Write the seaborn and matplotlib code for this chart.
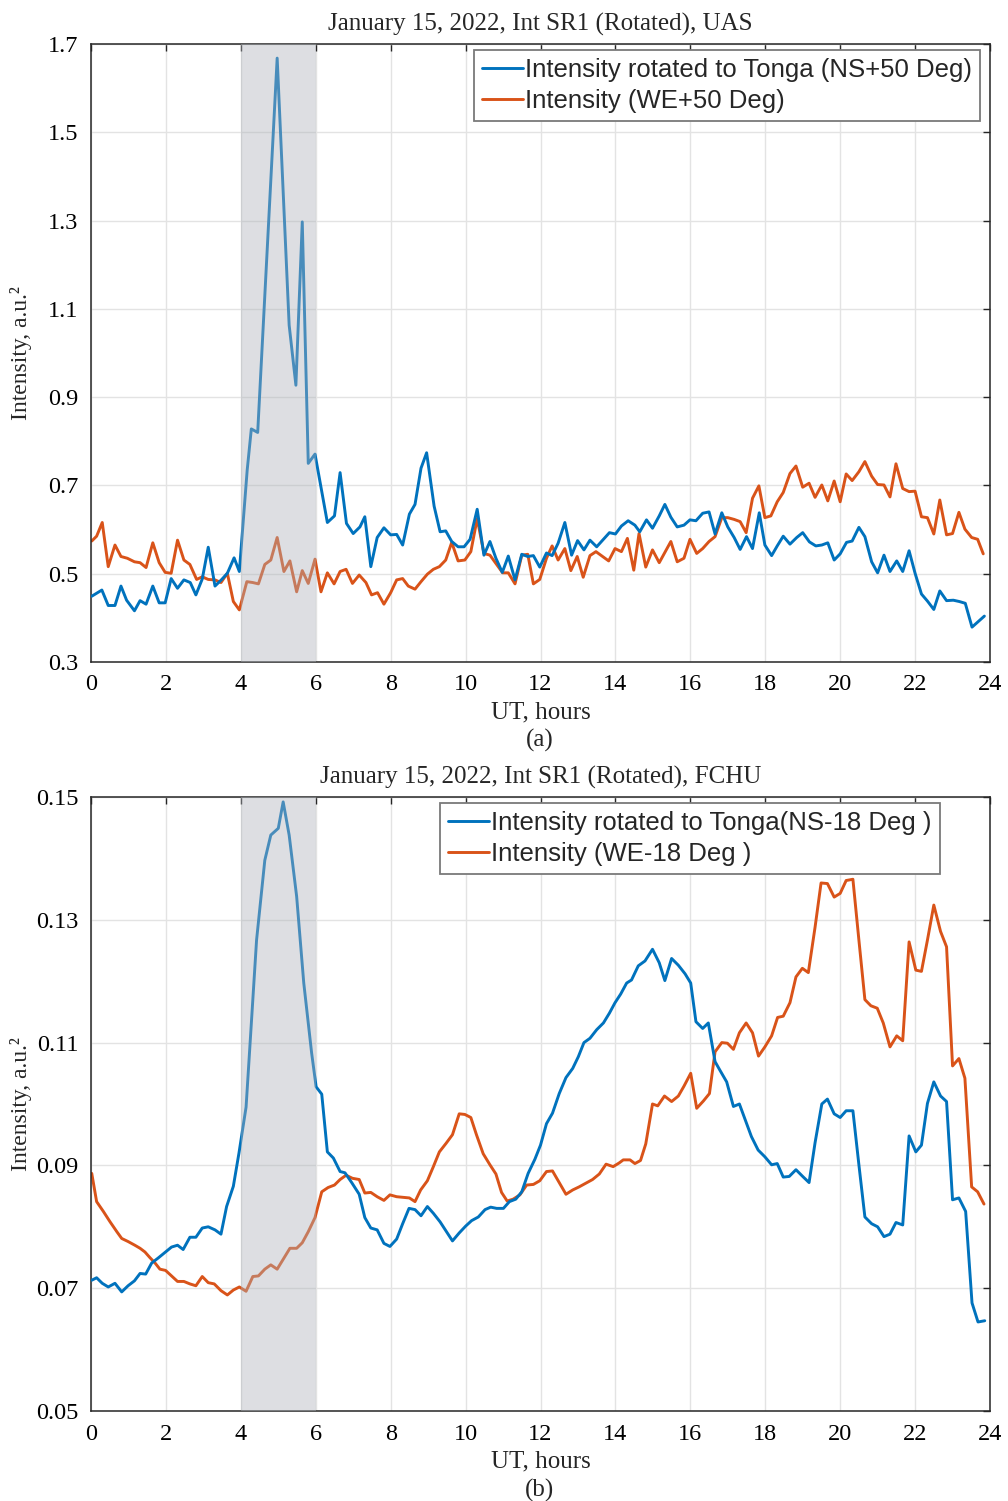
import matplotlib
matplotlib.use("Agg")
import matplotlib.pyplot as plt
import numpy as np
import pandas as pd
import seaborn as sns

# ---- panel (a): UAS ----
uas_ns_t = [0.02, 0.29, 0.46, 0.64, 0.80, 0.95, 1.16, 1.31, 1.47, 1.65, 1.82, 1.98, 2.14, 2.31, 2.48,
            2.65, 2.80, 2.97, 3.13, 3.31, 3.49, 3.64, 3.82, 3.96, 4.17, 4.28, 4.45, 4.97, 5.29, 5.47,
            5.64, 5.80, 5.98, 6.31, 6.50, 6.65, 6.82, 7.00, 7.18, 7.31, 7.47, 7.64, 7.82, 8.00, 8.16,
            8.32, 8.50, 8.65, 8.81, 8.96, 9.16, 9.32, 9.47, 9.63, 9.80, 9.96, 10.12, 10.31, 10.49,
            10.65, 10.81, 10.98, 11.14, 11.32, 11.50, 11.66, 11.81, 11.98, 12.16, 12.31, 12.47, 12.65,
            12.83, 12.99, 13.16, 13.32, 13.50, 13.66, 13.84, 14.00, 14.16, 14.34, 14.52, 14.65, 14.83,
            14.99, 15.17, 15.32, 15.48, 15.65, 15.83, 15.99, 16.15, 16.33, 16.50, 16.66, 16.84, 17.00,
            17.17, 17.33, 17.50, 17.66, 17.84, 17.99, 18.17, 18.32, 18.48, 18.66, 18.84, 19.00, 19.18,
            19.35, 19.51, 19.67, 19.84, 20.00, 20.17, 20.32, 20.50, 20.66, 20.84, 21.00, 21.17, 21.33,
            21.51, 21.67, 21.84, 22.00, 22.17, 22.33, 22.50, 22.66, 22.84, 23.02, 23.18, 23.34, 23.52,
            23.85]
uas_ns_v = [0.449, 0.463, 0.428, 0.428, 0.472, 0.440, 0.416, 0.439, 0.431, 0.472, 0.434, 0.434, 0.489,
            0.467, 0.486, 0.480, 0.452, 0.488, 0.560, 0.472, 0.487, 0.501, 0.536, 0.505, 0.735, 0.828,
            0.820, 1.668, 1.063, 0.927, 1.297, 0.750, 0.771, 0.616, 0.631, 0.729, 0.614, 0.591, 0.606,
            0.629, 0.516, 0.582, 0.604, 0.588, 0.589, 0.565, 0.635, 0.657, 0.739, 0.774, 0.653, 0.595,
            0.597, 0.573, 0.561, 0.561, 0.578, 0.646, 0.542, 0.573, 0.535, 0.503, 0.540, 0.486, 0.544,
            0.539, 0.541, 0.515, 0.547, 0.541, 0.569, 0.616, 0.542, 0.575, 0.554, 0.576, 0.561, 0.576,
            0.593, 0.590, 0.608, 0.620, 0.610, 0.595, 0.622, 0.603, 0.631, 0.657, 0.628, 0.606, 0.610,
            0.622, 0.620, 0.637, 0.640, 0.590, 0.638, 0.606, 0.582, 0.555, 0.584, 0.557, 0.638, 0.565,
            0.541, 0.563, 0.585, 0.567, 0.582, 0.593, 0.572, 0.563, 0.565, 0.570, 0.531, 0.545, 0.571,
            0.574, 0.605, 0.584, 0.527, 0.502, 0.542, 0.505, 0.529, 0.505, 0.552, 0.501, 0.454, 0.438,
            0.419, 0.461, 0.439, 0.440, 0.437, 0.433, 0.379, 0.404]

uas_we_t = [0.02, 0.15, 0.30, 0.46, 0.64, 0.80, 0.97, 1.16, 1.31, 1.47, 1.65, 1.82, 1.98, 2.14, 2.31,
            2.48, 2.64, 2.82, 2.97, 3.13, 3.31, 3.47, 3.64, 3.80, 3.96, 4.16, 4.32, 4.47, 4.64, 4.80,
            4.97, 5.15, 5.31, 5.49, 5.64, 5.80, 5.98, 6.14, 6.31, 6.49, 6.65, 6.81, 6.98, 7.16, 7.34,
            7.49, 7.65, 7.82, 8.00, 8.16, 8.32, 8.47, 8.65, 8.81, 8.98, 9.14, 9.30, 9.47, 9.63, 9.80,
            9.98, 10.14, 10.31, 10.49, 10.65, 10.83, 10.99, 11.14, 11.32, 11.50, 11.66, 11.81, 11.98,
            12.16, 12.31, 12.47, 12.65, 12.81, 12.98, 13.14, 13.32, 13.48, 13.66, 13.82, 13.99, 14.16,
            14.32, 14.49, 14.63, 14.81, 14.99, 15.17, 15.32, 15.48, 15.65, 15.83, 15.99, 16.17, 16.33,
            16.50, 16.66, 16.84, 17.00, 17.17, 17.33, 17.49, 17.66, 17.83, 17.99, 18.15, 18.32, 18.48,
            18.66, 18.82, 19.00, 19.17, 19.33, 19.51, 19.67, 19.84, 20.00, 20.16, 20.32, 20.50, 20.66,
            20.84, 21.00, 21.17, 21.33, 21.49, 21.67, 21.84, 22.00, 22.17, 22.33, 22.50, 22.66, 22.84,
            23.00, 23.17, 23.33, 23.51, 23.67, 23.82]
uas_we_v = [0.574, 0.585, 0.616, 0.516, 0.565, 0.539, 0.535, 0.527, 0.525, 0.514, 0.570, 0.525, 0.503,
            0.501, 0.576, 0.531, 0.521, 0.487, 0.493, 0.487, 0.486, 0.480, 0.501, 0.437, 0.418, 0.482,
            0.480, 0.477, 0.521, 0.531, 0.582, 0.505, 0.529, 0.459, 0.507, 0.478, 0.533, 0.459, 0.502,
            0.477, 0.505, 0.510, 0.478, 0.497, 0.480, 0.452, 0.457, 0.431, 0.457, 0.486, 0.489, 0.472,
            0.465, 0.482, 0.499, 0.510, 0.516, 0.531, 0.571, 0.529, 0.531, 0.550, 0.625, 0.546, 0.542,
            0.521, 0.502, 0.502, 0.477, 0.542, 0.544, 0.477, 0.487, 0.535, 0.563, 0.531, 0.557, 0.507,
            0.539, 0.492, 0.541, 0.550, 0.539, 0.529, 0.557, 0.550, 0.580, 0.508, 0.591, 0.515, 0.554,
            0.525, 0.548, 0.573, 0.527, 0.535, 0.578, 0.546, 0.557, 0.573, 0.584, 0.627, 0.627, 0.623,
            0.618, 0.593, 0.671, 0.699, 0.627, 0.631, 0.663, 0.684, 0.727, 0.744, 0.696, 0.705, 0.673,
            0.701, 0.665, 0.710, 0.663, 0.726, 0.711, 0.731, 0.754, 0.721, 0.702, 0.701, 0.674, 0.749,
            0.693, 0.686, 0.687, 0.629, 0.627, 0.590, 0.667, 0.588, 0.591, 0.639, 0.601, 0.582, 0.578,
            0.545]

# ---- panel (b): FCHU ----
fchu_ns_t = [0.02, 0.15, 0.30, 0.46, 0.64, 0.82, 0.99, 1.16, 1.31, 1.46, 1.62, 1.79, 1.97, 2.15, 2.31,
             2.46, 2.64, 2.80, 2.97, 3.13, 3.31, 3.47, 3.62, 3.80, 3.95, 4.14, 4.42, 4.64, 4.80, 5.00,
             5.13, 5.29, 5.49, 5.68, 5.89, 6.01, 6.16, 6.31, 6.47, 6.65, 6.78, 6.96, 7.16, 7.31, 7.47,
             7.64, 7.82, 7.98, 8.16, 8.32, 8.49, 8.65, 8.81, 8.98, 9.14, 9.32, 9.49, 9.65, 9.83, 10.00,
             10.16, 10.34, 10.52, 10.67, 10.83, 11.01, 11.17, 11.34, 11.50, 11.67, 11.85, 12.00, 12.16,
             12.32, 12.50, 12.68, 12.86, 13.01, 13.16, 13.32, 13.50, 13.68, 13.84, 13.99, 14.14, 14.30,
             14.43, 14.61, 14.79, 14.99, 15.17, 15.32, 15.50, 15.68, 15.86, 16.01, 16.15, 16.33, 16.48,
             16.66, 16.79, 16.97, 17.15, 17.31, 17.46, 17.63, 17.81, 17.99, 18.17, 18.32, 18.48, 18.64,
             18.82, 19.00, 19.17, 19.33, 19.51, 19.66, 19.84, 20.00, 20.16, 20.34, 20.50, 20.66, 20.84,
             21.00, 21.17, 21.33, 21.49, 21.67, 21.84, 22.02, 22.17, 22.33, 22.50, 22.68, 22.84, 23.00,
             23.17, 23.35, 23.52, 23.68, 23.86]
fchu_ns_v = [0.0713, 0.0717, 0.0708, 0.0702, 0.0708, 0.0694, 0.0704, 0.0712, 0.0724, 0.0723, 0.0741,
             0.0749, 0.0758, 0.0767, 0.0770, 0.0763, 0.0783, 0.0783, 0.0798, 0.0800, 0.0795, 0.0788,
             0.0833, 0.0866, 0.0920, 0.0995, 0.1267, 0.1397, 0.1438, 0.1449, 0.1492, 0.1438, 0.1338,
             0.1197, 0.1083, 0.1028, 0.1016, 0.0922, 0.0912, 0.0890, 0.0888, 0.0872, 0.0853, 0.0815,
             0.0798, 0.0795, 0.0773, 0.0768, 0.0780, 0.0805, 0.0830, 0.0828, 0.0818, 0.0833, 0.0822,
             0.0808, 0.0792, 0.0777, 0.0790, 0.0801, 0.0810, 0.0816, 0.0828, 0.0832, 0.0830, 0.0830,
             0.0841, 0.0845, 0.0857, 0.0887, 0.0910, 0.0933, 0.0968, 0.0985, 0.1017, 0.1043, 0.1058,
             0.1077, 0.1100, 0.1107, 0.1121, 0.1132, 0.1148, 0.1165, 0.1179, 0.1197, 0.1202, 0.1225,
             0.1233, 0.1252, 0.1230, 0.1201, 0.1237, 0.1226, 0.1212, 0.1197, 0.1134, 0.1123, 0.1132,
             0.1069, 0.1055, 0.1036, 0.0996, 0.1000, 0.0975, 0.0947, 0.0925, 0.0914, 0.0901, 0.0903,
             0.0881, 0.0882, 0.0893, 0.0882, 0.0872, 0.0937, 0.1000, 0.1008, 0.0984, 0.0978, 0.0989,
             0.0989, 0.0901, 0.0816, 0.0805, 0.0800, 0.0784, 0.0788, 0.0807, 0.0803, 0.0948, 0.0922,
             0.0933, 0.1001, 0.1036, 0.1013, 0.1004, 0.0844, 0.0847, 0.0825, 0.0676, 0.0645, 0.0647]

fchu_we_t = [0.02, 0.15, 0.33, 0.51, 0.69, 0.82, 0.99, 1.17, 1.31, 1.44, 1.57, 1.71, 1.84, 1.99, 2.15,
             2.31, 2.48, 2.64, 2.80, 2.97, 3.13, 3.29, 3.47, 3.64, 3.80, 3.96, 4.14, 4.32, 4.47, 4.64,
             4.80, 4.97, 5.15, 5.31, 5.49, 5.64, 5.80, 5.98, 6.16, 6.33, 6.50, 6.65, 6.81, 6.98, 7.16,
             7.31, 7.47, 7.64, 7.82, 7.98, 8.16, 8.32, 8.50, 8.65, 8.80, 8.98, 9.14, 9.30, 9.48, 9.65,
             9.83, 9.98, 10.14, 10.29, 10.47, 10.65, 10.81, 10.96, 11.11, 11.27, 11.45, 11.63, 11.81,
             11.98, 12.16, 12.32, 12.50, 12.68, 12.86, 13.03, 13.21, 13.39, 13.57, 13.75, 13.94, 14.10,
             14.21, 14.39, 14.52, 14.67, 14.81, 14.99, 15.13, 15.31, 15.50, 15.68, 15.83, 16.01, 16.17,
             16.35, 16.51, 16.66, 16.84, 16.99, 17.15, 17.31, 17.49, 17.66, 17.82, 17.99, 18.17, 18.33,
             18.48, 18.66, 18.82, 18.99, 19.15, 19.33, 19.49, 19.66, 19.84, 20.00, 20.16, 20.34, 20.50,
             20.66, 20.82, 20.99, 21.15, 21.33, 21.51, 21.67, 21.84, 22.02, 22.17, 22.33, 22.50, 22.68,
             22.84, 23.00, 23.17, 23.33, 23.51, 23.67, 23.84]
fchu_we_v = [0.0887, 0.0841, 0.0825, 0.0808, 0.0792, 0.0781, 0.0776, 0.0770, 0.0765, 0.0759, 0.0750,
             0.0741, 0.0731, 0.0729, 0.0720, 0.0711, 0.0711, 0.0707, 0.0704, 0.0719, 0.0709, 0.0707,
             0.0696, 0.0689, 0.0697, 0.0702, 0.0695, 0.0719, 0.0720, 0.0731, 0.0738, 0.0731, 0.0749,
             0.0765, 0.0765, 0.0774, 0.0792, 0.0815, 0.0857, 0.0864, 0.0868, 0.0877, 0.0884, 0.0879,
             0.0877, 0.0855, 0.0856, 0.0849, 0.0843, 0.0852, 0.0849, 0.0848, 0.0847, 0.0841, 0.0860,
             0.0875, 0.0898, 0.0922, 0.0936, 0.0950, 0.0984, 0.0983, 0.0978, 0.0950, 0.0919, 0.0901,
             0.0886, 0.0856, 0.0842, 0.0845, 0.0852, 0.0868, 0.0869, 0.0875, 0.0890, 0.0891, 0.0872,
             0.0853, 0.0860, 0.0865, 0.0871, 0.0877, 0.0886, 0.0902, 0.0898, 0.0904, 0.0909, 0.0909,
             0.0903, 0.0908, 0.0935, 0.1000, 0.0997, 0.1013, 0.1004, 0.1013, 0.1029, 0.1050, 0.0993,
             0.1005, 0.1017, 0.1085, 0.1100, 0.1099, 0.1089, 0.1116, 0.1132, 0.1116, 0.1078, 0.1093,
             0.1111, 0.1141, 0.1143, 0.1165, 0.1207, 0.1221, 0.1214, 0.1288, 0.1360, 0.1359, 0.1337,
             0.1343, 0.1364, 0.1366, 0.1267, 0.1170, 0.1160, 0.1156, 0.1132, 0.1093, 0.1111, 0.1103,
             0.1264, 0.1218, 0.1216, 0.1267, 0.1324, 0.1281, 0.1256, 0.1062, 0.1074, 0.1042, 0.0865,
             0.0857, 0.0837]

titles = ["January 15, 2022, Int SR1 (Rotated), UAS", "January 15, 2022, Int SR1 (Rotated), FCHU"]
labels_a = ["Intensity rotated to Tonga (NS+50 Deg)", "Intensity (WE+50 Deg)"]
labels_b = ["Intensity rotated to Tonga(NS-18 Deg )", "Intensity (WE-18 Deg )"]
x_ticks = list(range(0, 25, 2))
y_ticks_a = [0.3, 0.5, 0.7, 0.9, 1.1, 1.3, 1.5, 1.7]
y_ticks_b = [0.05, 0.07, 0.09, 0.11, 0.13, 0.15]

BLUE = "#0072BD"
ORANGE = "#D95319"

sns.set_theme(style="whitegrid")
plt.rcParams["font.family"] = ["Liberation Serif", "DejaVu Serif"]

fig = plt.figure(figsize=(10.08, 15.01), dpi=100)
ax_a = fig.add_axes([91 / 1008, 1 - 662 / 1501, 899 / 1008, 618 / 1501])
ax_b = fig.add_axes([91 / 1008, 1 - 1411 / 1501, 899 / 1008, 614 / 1501])


def draw_panel(ax, t1, v1, t2, v2, labels, yticks, title, leg_right):
    d1 = pd.DataFrame({"t": t1, "v": v1})
    d2 = pd.DataFrame({"t": t2, "v": v2})
    sns.lineplot(data=d1, x="t", y="v", ax=ax, color=BLUE, lw=2.1, label=labels[0], zorder=3)
    sns.lineplot(data=d2, x="t", y="v", ax=ax, color=ORANGE, lw=2.1, label=labels[1], zorder=2)
    ax.axvspan(4, 6, color="#aeb2ba", alpha=0.42, lw=0, zorder=4)
    ax.set_xlim(0, 24)
    ax.set_ylim(yticks[0], yticks[-1])
    ax.set_xticks(x_ticks)
    ax.set_yticks(yticks)
    ax.set_yticklabels([f"{y:g}" for y in yticks])
    ax.tick_params(axis="both", which="both", direction="in", length=5, width=1,
                   top=True, right=True, labelsize=17.5, colors="#262626", pad=9)
    ax.tick_params(axis="both", labelcolor="black")
    for sp in ax.spines.values():
        sp.set_color("#262626")
        sp.set_linewidth(1.1)
    ax.grid(True, color="#e3e3e3", lw=1)
    ax.set_xlabel("UT, hours", fontsize=18, labelpad=4)
    ax.set_ylabel("Intensity, a.u.²", fontsize=17)
    ax.yaxis.set_label_coords(-0.066, 0.5)
    ax.set_title(title, fontsize=18, pad=10)
    leg = ax.legend(loc="upper right", bbox_to_anchor=(leg_right, 0.99), frameon=True,
                    fancybox=False, framealpha=1, edgecolor="#7a7a7a", handlelength=1.6,
                    handletextpad=0.1, borderpad=0.3, labelspacing=0.28, borderaxespad=0.0,
                    prop={"family": "Liberation Sans", "size": 18.5})
    leg.get_frame().set_linewidth(1.3)
    leg.set_zorder(10)
    return ax


draw_panel(ax_a, uas_ns_t, uas_ns_v, uas_we_t, uas_we_v, labels_a, y_ticks_a, titles[0], 0.989)
draw_panel(ax_b, fchu_ns_t, fchu_ns_v, fchu_we_t, fchu_we_v, labels_b, y_ticks_b, titles[1], 0.944)

fig.text(540 / 1008, 1 - 740 / 1501, "(a)", ha="center", va="center", fontsize=18)
fig.text(540 / 1008, 1 - 1490 / 1501, "(b)", ha="center", va="center", fontsize=18)

fig.savefig("out.png", dpi=100, facecolor="white")
